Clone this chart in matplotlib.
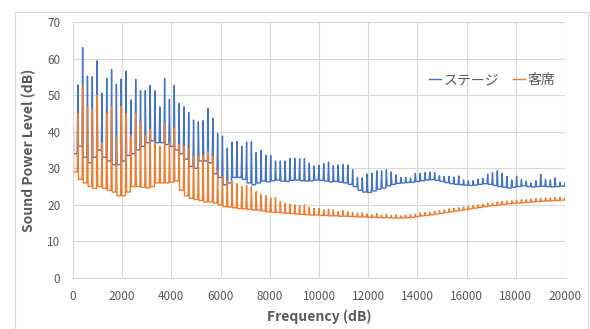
import numpy as np
import matplotlib
matplotlib.use("Agg")
import matplotlib.pyplot as plt
from matplotlib.patches import Rectangle

plt.rcParams['font.family'] = ['Noto Sans CJK JP', 'DejaVu Sans']

# spectrum data: harmonic spikes every ~196 Hz
harmonic_hz = 196
spike_half_width = 25

stage_start = 51.0
stage_peaks = [
    52.8, 63.0, 55.2, 55.0, 59.4, 50.5, 54.6, 57.0, 53.0, 54.4,
    56.6, 48.7, 54.3, 51.2, 51.2, 52.6, 51.2, 46.8, 54.6, 48.9,
    52.7, 47.7, 46.8, 45.3, 43.2, 42.7, 43.0, 46.4, 43.7, 39.5,
    38.8, 35.5, 37.2, 37.3, 36.0, 37.2, 37.3, 34.3, 34.9, 33.6,
    33.5, 32.0, 32.0, 32.0, 32.7, 32.7, 32.6, 32.6, 31.4, 30.6,
    30.8, 31.3, 31.7, 30.7, 30.9, 31.0, 30.9, 29.6, 27.5, 27.4,
    28.4, 28.7, 29.3, 29.3, 29.6, 29.0, 28.2, 27.5, 27.5, 27.3,
    28.6, 28.6, 28.8, 29.0, 28.8, 28.0, 27.8, 27.8, 27.6, 27.9,
    26.8, 26.6, 26.6, 27.0, 27.2, 28.4, 28.8, 29.3, 28.6, 27.8,
    26.8, 27.8, 27.0, 26.5, 26.0, 26.6, 28.4, 27.0, 26.8, 27.4,
    26.2, 26.0,
]
stage_floor = [
    34.0, 36.0, 33.0, 31.5, 33.0, 35.0, 33.0, 32.0, 31.0, 31.0,
    32.0, 33.5, 34.0, 35.0, 36.0, 37.0, 37.5, 37.0, 37.0, 36.5,
    36.0, 35.0, 34.0, 32.5, 30.5, 30.0, 32.0, 32.0, 31.5, 28.5,
    27.5, 25.5, 26.0, 27.5, 27.5, 27.0, 26.0, 25.5, 26.0, 26.5,
    26.3, 26.6, 26.8, 26.5, 26.4, 26.7, 26.8, 26.6, 26.5, 26.6,
    26.8, 26.7, 26.5, 26.3, 26.4, 26.2, 26.0, 25.6, 25.0, 24.0,
    23.5, 23.4, 23.8, 24.3, 24.6, 25.2, 25.6, 25.9, 26.0, 26.1,
    26.2, 26.4, 26.6, 26.8, 26.9, 26.7, 26.4, 26.1, 25.8, 25.6,
    25.5, 25.4, 25.3, 25.4, 25.6, 25.8, 25.6, 25.3, 25.0, 24.8,
    24.6, 24.8, 25.0, 25.2, 25.0, 24.9, 25.0, 25.1, 25.0, 24.9,
    25.0, 25.1, 25.2,
]

audience_start = 50.5
audience_peaks = [
    45.0, 52.5, 46.8, 46.0, 50.0, 37.0, 45.0, 46.8, 38.8, 47.0,
    45.0, 39.0, 45.0, 42.4, 39.0, 40.7, 37.2, 36.0, 42.4, 37.0,
    41.0, 36.5, 36.0, 35.5, 33.2, 33.2, 33.5, 34.5, 33.2, 29.5,
    27.8, 26.8, 26.5, 25.8, 25.0, 25.3, 25.0, 23.6, 22.8, 22.5,
    21.9, 22.0, 20.9, 20.4, 20.2, 20.0, 19.8, 20.0, 19.3, 19.0,
    19.0, 18.6, 18.8, 18.6, 18.2, 18.4, 18.1, 17.9, 17.8, 17.8,
    17.5, 17.3, 17.6, 17.2, 17.4, 17.1, 17.3, 17.0, 17.2, 17.4,
    17.5, 17.8, 17.9, 18.0, 18.3, 18.4, 18.6, 18.9, 19.0, 19.2,
    19.4, 19.6, 19.8, 20.0, 20.2, 20.5, 20.5, 20.8, 20.9, 21.0,
    21.1, 21.3, 21.4, 21.4, 21.6, 21.7, 21.8, 21.9, 21.9, 22.0,
    22.1, 22.0,
]
audience_floor = [
    29.0, 27.0, 26.0, 25.0, 24.5, 25.0, 24.5, 24.0, 23.5, 22.5,
    22.5, 23.5, 25.0, 25.0, 24.8, 24.6, 25.0, 26.0, 26.0, 26.0,
    26.2, 26.5, 24.0, 22.5, 21.8, 21.5, 21.2, 20.8, 20.8, 20.5,
    20.0, 19.5, 19.4, 19.2, 19.0, 18.9, 18.8, 18.6, 18.5, 18.3,
    18.1, 18.0, 17.9, 17.8, 17.7, 17.6, 17.5, 17.4, 17.3, 17.2,
    17.2, 17.1, 17.1, 17.0, 17.0, 16.9, 16.9, 16.8, 16.8, 16.7,
    16.7, 16.6, 16.6, 16.5, 16.5, 16.5, 16.4, 16.4, 16.4, 16.5,
    16.6, 16.8, 17.0, 17.1, 17.3, 17.5, 17.7, 17.9, 18.1, 18.3,
    18.5, 18.7, 18.9, 19.1, 19.3, 19.5, 19.7, 19.8, 20.0, 20.1,
    20.3, 20.4, 20.5, 20.6, 20.7, 20.8, 20.9, 21.0, 21.1, 21.1,
    21.2, 21.3, 21.3,
]

x_ticks = list(range(0, 20001, 2000))
y_ticks = list(range(0, 71, 10))


def spectrum(start, peaks, floor):
    # floor level between spikes, a narrow spike at every harmonic
    xs = [0, spike_half_width]
    ys = [start, floor[0]]
    for n, peak in enumerate(peaks, start=1):
        f = n * harmonic_hz
        xs += [f - spike_half_width, f, f + spike_half_width]
        ys += [floor[n - 1], peak, floor[n]]
    return xs, ys


fig = plt.figure(figsize=(5.9, 3.29), dpi=100)
fig.patches.append(Rectangle((15 / 590, -0.01), 573 / 590, 1 - 12 / 329 + 0.01,
                             transform=fig.transFigure, fill=False,
                             edgecolor='#d9d9d9', linewidth=0.8))
ax = fig.add_axes([73 / 590, 1 - 278 / 329, 492 / 590, 256 / 329])

sx, sy = spectrum(stage_start, stage_peaks, stage_floor)
ox, oy = spectrum(audience_start, audience_peaks, audience_floor)
ax.plot(sx, sy, color='#4472C4', linewidth=1.0, label='ステージ')
ax.plot(ox, oy, color='#ED7D31', linewidth=1.0, label='客席')

ax.set_xlim(0, 20000)
ax.set_ylim(0, 70)
ax.set_xticks(x_ticks)
ax.set_yticks(y_ticks)
ax.grid(True, color='#d9d9d9', linewidth=0.8)
ax.set_axisbelow(True)
for side in ['top', 'right']:
    ax.spines[side].set_visible(False)
for side in ['left', 'bottom']:
    ax.spines[side].set_color('#d9d9d9')
ax.tick_params(length=0, labelsize=8.5, labelcolor='#595959')
ax.tick_params(axis='x', pad=9)
ax.tick_params(axis='y', pad=9)

ax.set_xlabel('Frequency (dB)', fontsize=10, fontweight='bold', color='#595959', labelpad=4)
ax.set_ylabel('Sound Power Level (dB)', fontsize=10, fontweight='bold', color='#595959', labelpad=8)

ax.legend(loc='center', bbox_to_anchor=(0.851, 0.773), ncol=2, frameon=False,
          fontsize=10, labelcolor='#595959', handlelength=0.9, handletextpad=0.15,
          columnspacing=1.0)

fig.savefig('out.png', dpi=100)
